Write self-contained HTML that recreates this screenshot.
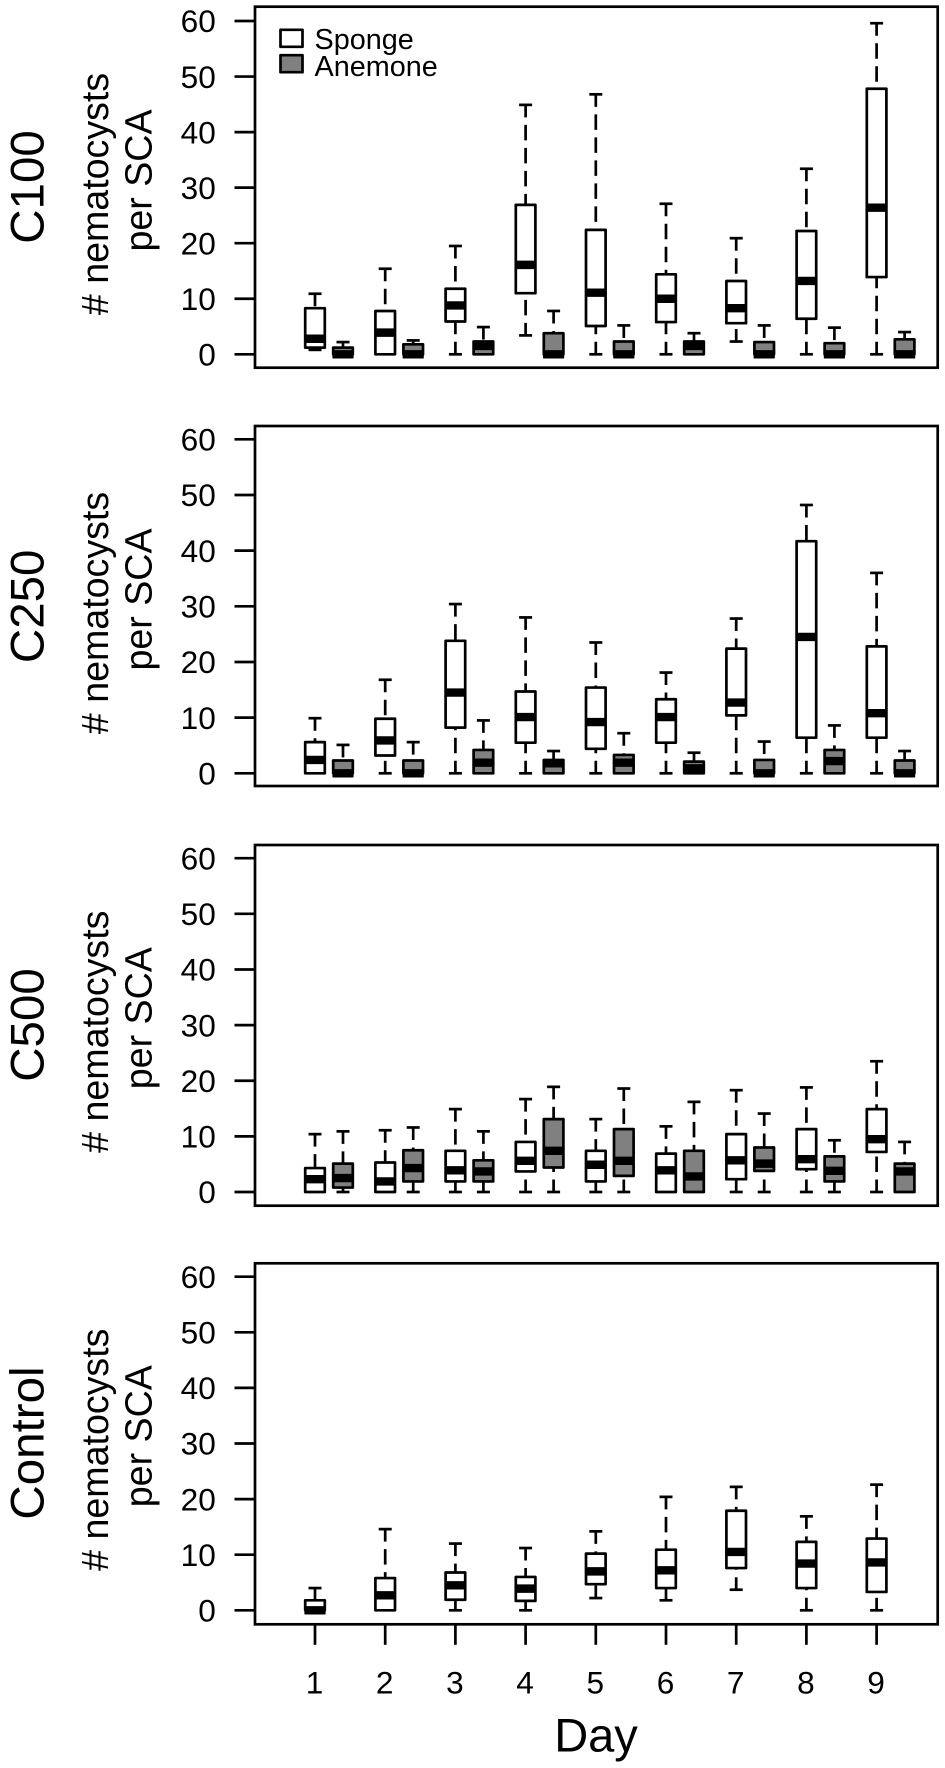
<!DOCTYPE html>
<html lang="en">
<head>
<meta charset="utf-8">
<title>Nematocysts per SCA by day</title>
<style>
html,body{margin:0;padding:0;background:#fff;}
svg{display:block;}
text{font-family:"Liberation Sans",Arial,sans-serif;fill:#000;}
</style>
</head>
<body>
<svg id="chart" xmlns="http://www.w3.org/2000/svg" width="945" height="1768" viewBox="0 0 945 1768">
  <rect x="0" y="0" width="945" height="1768" fill="#fff"/>

  <text font-size="47.5" text-anchor="middle" transform="translate(43.5 187) rotate(-90)">C100</text>
  <text font-size="37.6" text-anchor="middle" transform="translate(108 194) rotate(-90)"># nematocysts</text>
  <text font-size="37.6" text-anchor="middle" transform="translate(151.5 180.5) rotate(-90)">per SCA</text>

  <text font-size="47.5" text-anchor="middle" transform="translate(43.5 606.3) rotate(-90)">C250</text>
  <text font-size="37.6" text-anchor="middle" transform="translate(108 613) rotate(-90)"># nematocysts</text>
  <text font-size="37.6" text-anchor="middle" transform="translate(151.5 599.5) rotate(-90)">per SCA</text>

  <text font-size="47.5" text-anchor="middle" transform="translate(43.5 1025) rotate(-90)">C500</text>
  <text font-size="37.6" text-anchor="middle" transform="translate(108 1031.7) rotate(-90)"># nematocysts</text>
  <text font-size="37.6" text-anchor="middle" transform="translate(151.5 1018.2) rotate(-90)">per SCA</text>

  <text font-size="47.5" text-anchor="middle" transform="translate(43.5 1443) rotate(-90)">Control</text>
  <text font-size="37.6" text-anchor="middle" transform="translate(108 1449.7) rotate(-90)"># nematocysts</text>
  <text font-size="37.6" text-anchor="middle" transform="translate(151.5 1436.2) rotate(-90)">per SCA</text>

  <text font-size="47" text-anchor="middle" x="596" y="1751.5">Day</text>

  <g>
    <rect x="280.5" y="29.8" width="22" height="17" fill="#fff" stroke="#000" stroke-width="2.7" stroke-linejoin="round"/>
    <text font-size="28.8" x="314.5" y="49">Sponge</text>
    <rect x="280.5" y="55.2" width="22" height="17" fill="#808080" stroke="#000" stroke-width="2.7" stroke-linejoin="round"/>
    <text font-size="28.8" x="314.5" y="76">Anemone</text>
  </g>
</svg>

<script>
// ---- Data: [low whisker, Q1, median, Q3, high whisker], one row per day ----
const days = ["1","2","3","4","5","6","7","8","9"];
const yTickValues = [0,10,20,30,40,50,60];

const c100Sponge = [
  [0.8,1.2,2.8,8.3,10.9],[0,0,3.9,7.8,15.4],[0,5.9,8.8,11.8,19.5],
  [3.4,11,16.1,26.9,44.9],[0,5.1,11.1,22.4,46.8],[0,5.8,10,14.4,27.1],
  [2.3,5.6,8.3,13.2,20.9],[0,6.4,13.2,22.2,33.4],[0,13.9,26.4,47.8,59.6]
];
const c100Anemone = [
  [0,0,0,1.2,2.2],[0,0,0,1.8,2.5],[0,0,1.5,2.3,4.9],
  [0,0,0,3.8,7.8],[0,0,0,2.3,5.2],[0,0,1.5,2.3,3.8],
  [0,0,0,2.2,5.2],[0,0,0,2,4.8],[0,0,0,2.7,4]
];
const c250Sponge = [
  [0,0,2.4,5.6,9.9],[0,3.2,5.9,9.8,16.8],[0,8.2,14.5,23.8,30.4],
  [0,5.5,10.1,14.7,28],[0,4.4,9.2,15.4,23.5],[0,5.5,10.1,13.3,18.1],
  [0,10.4,12.7,22.4,27.8],[0,6.4,24.5,41.7,48.2],[0,6.4,10.8,22.8,36]
];
const c250Anemone = [
  [0,0,0,2.3,5.1],[0,0,0,2.3,5.6],[0,0,1.9,4.2,9.5],
  [0,0,1.8,2.4,4],[0,0,1.9,3.3,7.2],[0,0,0.9,2.1,3.7],
  [0,0,0,2.4,5.7],[0,0,2.2,4.2,8.6],[0,0,0,2.3,4]
];
const c500Sponge = [
  [0,0,2.3,4.3,10.4],[0,0,1.9,5.3,11.1],[0,1.9,3.9,7.4,14.9],
  [0,3.7,5.6,9,16.7],[0,1.9,4.9,7.4,13.1],[0,0,3.9,6.9,11.8],
  [0,2.3,5.7,10.4,18.3],[0,4.1,5.9,11.3,18.8],[0,7.2,9.5,14.9,23.5]
];
const c500Anemone = [
  [0,0.8,2.5,5.1,10.9],[0,1.9,4.3,7.5,11.6],[0,1.9,3.7,5.7,10.9],
  [0,4.4,7.4,13.1,18.9],[0,2.9,5.6,11.3,18.6],[0,0,2.8,7.4,16.2],
  [0,3.8,5.1,8,14.1],[0,1.9,3.8,6.4,9.3],[0,0,3.7,5.1,9]
];
const controlSponge = [
  [0,0,0,1.8,4],[0,0,2.7,5.8,14.6],[0,1.9,4.5,6.8,12],
  [0,1.7,3.9,6,11.2],[2.2,4.7,7,10.2,14.2],[1.8,4,7.2,10.9,20.4],
  [3.7,7.6,10.5,17.9,22.2],[0,4,8.4,12.3,16.9],[0,3.3,8.6,12.9,22.6]
];

// ---- Layout ----
const NS = "http://www.w3.org/2000/svg";
const svg = document.getElementById("chart");
const LW = 2.7, frameLeft = 255, frameRight = 937.7;
const dayX0 = 315, dayStep = 70.2, anemoneOffset = 28, boxHalf = 9.8, capHalf = 6.5, medianH = 8.4;
const tickFont = 31.6;

function xScale(dayIndex) { return dayX0 + dayIndex * dayStep; }
function makeYScale(y0, y60) { return function (v) { return y0 + (y60 - y0) * v / 60; }; }

function make(tag, attrs, parent) {
  const el = document.createElementNS(NS, tag);
  for (const k in attrs) el.setAttribute(k, attrs[k]);
  parent.appendChild(el);
  return el;
}

function drawBox(g, x, stats, fill, y, label) {
  const lo = stats[0], q1 = stats[1], med = stats[2], q3 = stats[3], hi = stats[4];
  const box = make("g", {}, g);
  
  
  const whisk = { stroke: "#000", "stroke-width": LW, "stroke-dasharray": "15.5 7.5", "stroke-dashoffset": 3, fill: "none" };
  const cap = { stroke: "#000", "stroke-width": LW };
  if (hi > q3) {
    const a = make("line", Object.assign({ x1: x, x2: x, y1: y(hi), y2: y(q3) }, whisk), box);
    
    
    const c = make("line", Object.assign({ x1: x - capHalf, x2: x + capHalf, y1: y(hi), y2: y(hi) }, cap), box);
    
    
  }
  if (lo < q1) {
    const a = make("line", Object.assign({ x1: x, x2: x, y1: y(lo), y2: y(q1) }, whisk), box);
    
    
    const c = make("line", Object.assign({ x1: x - capHalf, x2: x + capHalf, y1: y(lo), y2: y(lo) }, cap), box);
    
    
  }
  const r = make("rect", { x: x - boxHalf, y: y(q3), width: boxHalf * 2, height: Math.max(0, y(q1) - y(q3)), fill: fill }, box);
  
  
  const m = make("rect", { x: x - boxHalf - 0.8, y: y(med) - medianH / 2, width: boxHalf * 2 + 1.6, height: medianH, fill: "#000", rx: 0.8 }, box);
  
  
  const o = make("rect", { x: x - boxHalf, y: y(q3), width: boxHalf * 2, height: Math.max(0, y(q1) - y(q3)), fill: "none", stroke: "#000", "stroke-width": LW, "stroke-linejoin": "round" }, box);
  
  
}

function drawPanel(name, top, bottom, y0, y60, sponge, anemone, showX) {
  const y = makeYScale(y0, y60);
  const g = make("g", {}, svg);
  
  

  const yAxis = make("g", {}, g);
  
  
  yTickValues.forEach(function (v) {
    const t = make("line", { x1: 234.5, x2: frameLeft, y1: y(v), y2: y(v), stroke: "#000", "stroke-width": LW }, yAxis);
    
    
    const l = make("text", { x: 215.8, y: y(v) + 11.2, "font-size": tickFont, "text-anchor": "end" }, yAxis);
    
    
    l.textContent = String(v);
  });

  sponge.forEach(function (s, i) {
    drawBox(g, xScale(i), s, "#fff", y, name + '-sponge-day-' + days[i]);
  });
  if (anemone) {
    anemone.forEach(function (s, i) {
      drawBox(g, xScale(i) + anemoneOffset, s, "#808080", y, name + '-anemone-day-' + days[i]);
    });
  }

  const f = make("rect", { x: frameLeft, y: top, width: frameRight - frameLeft, height: bottom - top, fill: "none", stroke: "#000", "stroke-width": LW }, g);
  
  

  if (showX) {
    const xAxis = make("g", {}, g);
    
    
    days.forEach(function (d, i) {
      const t = make("line", { x1: xScale(i), x2: xScale(i), y1: bottom, y2: bottom + 20.5, stroke: "#000", "stroke-width": LW }, xAxis);
      
      
      const l = make("text", { x: xScale(i) - 0.5, y: 1693.5, "font-size": tickFont, "text-anchor": "middle" }, xAxis);
      
      
      l.textContent = d;
    });
  }
}

drawPanel("c100", 6.7, 367.7, 354.3, 21, c100Sponge, c100Anemone, false);
drawPanel("c250", 426, 786, 773.3, 439.3, c250Sponge, c250Anemone, false);
drawPanel("c500", 845, 1205.7, 1192, 858.2, c500Sponge, c500Anemone, false);
drawPanel("control", 1263.3, 1624.3, 1610.3, 1276.7, controlSponge, null, true);
</script>
</body>
</html>
